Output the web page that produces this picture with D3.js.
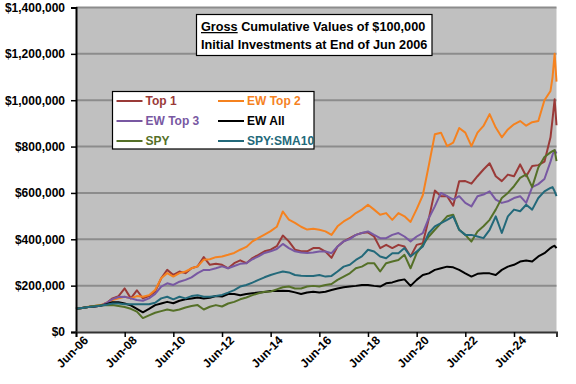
<!DOCTYPE html>
<head><meta charset="utf-8"/></head>
<style>
body { margin: 0; background: #fff; }
svg { font-family: "Liberation Sans", Arial, sans-serif; font-weight: bold; }
.grid line { stroke: #8c8c8c; stroke-width: 2; }
.series { fill: none; stroke-width: 2; stroke-linejoin: round; }
</style>
<script src="https://cdn.jsdelivr.net/npm/d3@7"></script>
<body>
<div id="chart"></div>
</body>
<script>

// quarterly points from Jun 2006 to Dec 2025, then monthly Jan-Mar 2026 (values in $000)
var top1 = [100,104,108,110,113,125,145,155,188,145,180,145,155,174,232,268,246,261,254,275,
    283,323,290,294,290,275,297,309,297,319,333,348,355,370,416,391,355,348,348,362,
    362,347,320,369,391,405,419,427,430,412,362,376,362,376,369,326,376,383,490,610,
    586,586,545,650,651,640,672,701,728,672,651,679,672,723,672,716,720,735,840,920,1004,892];
var ewTop2 = [100,104,109,112,116,125,138,145,152,145,155,152,159,181,232,254,239,254,261,275,
    283,312,314,323,326,333,341,355,367,391,406,420,435,454,520,485,471,454,442,445,
    441,434,419,456,477,492,513,528,549,528,506,513,484,513,499,475,530,590,720,853,
    860,802,817,880,860,802,860,889,940,882,840,874,896,910,890,905,910,1000,1040,1100,1200,1080];
var ewTop3 = [100,104,108,110,113,125,142,151,152,145,138,135,145,164,196,210,203,217,225,236,
    254,268,268,275,283,275,285,294,297,314,326,341,348,358,380,362,348,343,341,343,
    347,347,340,369,391,401,419,427,434,419,405,405,419,427,412,391,412,427,492,542,
    600,586,571,586,557,542,586,593,607,571,557,564,578,586,557,625,638,660,735,765,785,770];
var ewAll = [100,104,108,110,113,120,128,128,123,115,100,85,100,116,123,130,124,135,141,145,
    149,145,148,155,153,164,164,159,164,167,170,173,177,177,178,177,171,164,170,174,
    170,174,181,188,193,196,199,203,203,199,196,210,214,222,227,199,225,246,253,268,
    275,282,279,268,253,239,251,253,253,246,268,282,290,304,308,304,326,340,362,368,372,362];
var spy = [100,104,108,112,115,115,116,112,108,100,88,60,72,83,90,97,92,97,106,112,
    116,97,109,116,110,123,130,141,149,159,167,174,175,184,193,196,188,188,196,199,
    196,203,207,225,239,253,275,282,297,297,261,297,304,311,333,275,340,376,412,441,
    470,499,506,441,419,390,434,456,484,528,578,600,629,665,680,625,710,755,775,780,785,737];
var sma10 = [100,104,108,110,113,118,123,123,120,120,120,120,120,126,145,152,141,152,145,155,
    159,152,152,155,160,170,181,196,203,213,225,236,246,254,261,257,246,243,242,242,
    246,239,242,261,282,290,311,326,355,347,326,318,340,340,362,326,347,369,427,456,
    470,484,499,441,419,419,412,405,441,499,427,499,528,521,549,528,578,607,622,625,607,586];

var seriesNames = ["Top 1", "EW Top 2", "EW Top 3", "EW All", "SPY", "SPY:SMA10"];
var seriesData = [top1, ewTop2, ewTop3, ewAll, spy, sma10];
var seriesColors = ["#9a3a38", "#f5821f", "#7858a2", "#000000", "#557028", "#23697a"];

var yTicks = [0, 200000, 400000, 600000, 800000, 1000000, 1200000, 1400000];
var titleLines = ["Cumulative Values of $100,000", "Initial Investments at End of Jun 2006"];

var start = new Date(2006, 5, 1);
var dates = d3.range(79).map(function(i) { return d3.timeMonth.offset(start, 3 * i); })
    .concat([new Date(2026, 0, 1), new Date(2026, 1, 1), new Date(2026, 2, 1)]);
var xTicks = d3.range(10).map(function(i) { return d3.timeMonth.offset(start, 24 * i); });

var width = 576, height = 384;
var plot = {left: 76, right: 556.5, top: 7.5, bottom: 332};

var svg = d3.select("#chart").append("svg")
    .attr("width", width)
    .attr("height", height);

var x = d3.scaleTime()
    .domain([start, dates[dates.length - 1]])
    .range([plot.left, plot.right]);

var y = d3.scaleLinear()
    .domain([0, 1400000])
    .range([plot.bottom, plot.top]);

// plot background
svg.append("rect")
    .attr("x", plot.left)
    .attr("y", plot.top)
    .attr("width", plot.right - plot.left)
    .attr("height", plot.bottom - plot.top)
    .attr("fill", "#c0c0c0");

svg.append("g")
    .attr("class", "grid")
    .selectAll("line")
    .data(yTicks.filter(function(d) { return d > 0; }))
    .enter().append("line")
    .attr("x1", plot.left)
    .attr("x2", plot.right)
    .attr("y1", function(d) { return y(d); })
    .attr("y2", function(d) { return y(d); });

// series lines
var line = d3.line()
    .x(function(d, i) { return x(dates[i]); })
    .y(function(d) { return y(d * 1000); });

svg.append("g").selectAll("path")
    .data(seriesData)
    .enter().append("path")
    .attr("class", "series")
    .attr("stroke", function(d, i) { return seriesColors[i]; })
    .attr("d", line);

// axes
var yAxis = svg.append("g")
    .attr("transform", "translate(" + plot.left + ",0)")
    .call(d3.axisLeft(y)
        .tickValues(yTicks)
        .tickSize(5)
        .tickPadding(6)
        .tickFormat(function(d) { return "$" + d3.format(",")(d); }));
yAxis.select(".domain").attr("stroke", "#000").attr("stroke-width", 2);
yAxis.selectAll(".tick line").attr("stroke", "#000").attr("stroke-width", 1.5);
yAxis.selectAll("text")
    .attr("fill", "#000")
    .style("font-size", "12px")
    .style("font-weight", "bold");

var xAxis = svg.append("g")
    .attr("transform", "translate(0," + plot.bottom + ")")
    .call(d3.axisBottom(x)
        .tickValues(xTicks)
        .tickSize(5)
        .tickFormat(d3.timeFormat("%b-%y")));
xAxis.select(".domain").attr("stroke", "#333").attr("stroke-width", 2);
xAxis.selectAll(".tick line").attr("stroke", "#000").attr("stroke-width", 1.5);
xAxis.selectAll("text")
    .attr("fill", "#000")
    .style("font-size", "12px")
    .style("font-weight", "bold")
    .attr("text-anchor", "end")
    .attr("dx", "0.2em")
    .attr("dy", "0.6em")
    .attr("transform", "rotate(-45)");

// title box
var tb = svg.append("g");
tb.append("rect")
    .attr("x", 196.5).attr("y", 14.5)
    .attr("width", 235.5).attr("height", 41)
    .attr("fill", "#fff")
    .attr("stroke", "#000")
    .attr("stroke-width", 1.2);
var t1 = tb.append("text")
    .attr("x", 201).attr("y", 31)
    .style("font-size", "12.7px");
t1.append("tspan").style("text-decoration", "underline").text("Gross");
t1.append("tspan").text(" " + titleLines[0]);
tb.append("text")
    .attr("x", 201).attr("y", 48.5)
    .style("font-size", "12.7px")
    .text(titleLines[1]);

// legend
var lg = svg.append("g");
lg.append("rect")
    .attr("x", 112.5).attr("y", 91.5)
    .attr("width", 201.5).attr("height", 57.5)
    .attr("fill", "#fff")
    .attr("stroke", "#000")
    .attr("stroke-width", 1.2);

var items = lg.selectAll(".item")
    .data(seriesNames)
    .enter().append("g")
    .attr("class", "item")
    .attr("transform", function(d, i) {
        return "translate(" + (i % 2 == 0 ? 116.5 : 218) + "," + (101 + 20 * Math.floor(i / 2)) + ")";
    });
items.append("line")
    .attr("x1", 0).attr("x2", 26)
    .attr("stroke", function(d, i) { return seriesColors[i]; })
    .attr("stroke-width", 2);
items.append("text")
    .attr("x", 29)
    .attr("dy", "0.36em")
    .style("font-size", "12px")
    .attr("fill", function(d, i) { return seriesColors[i]; })
    .text(function(d) { return d; });

</script>
